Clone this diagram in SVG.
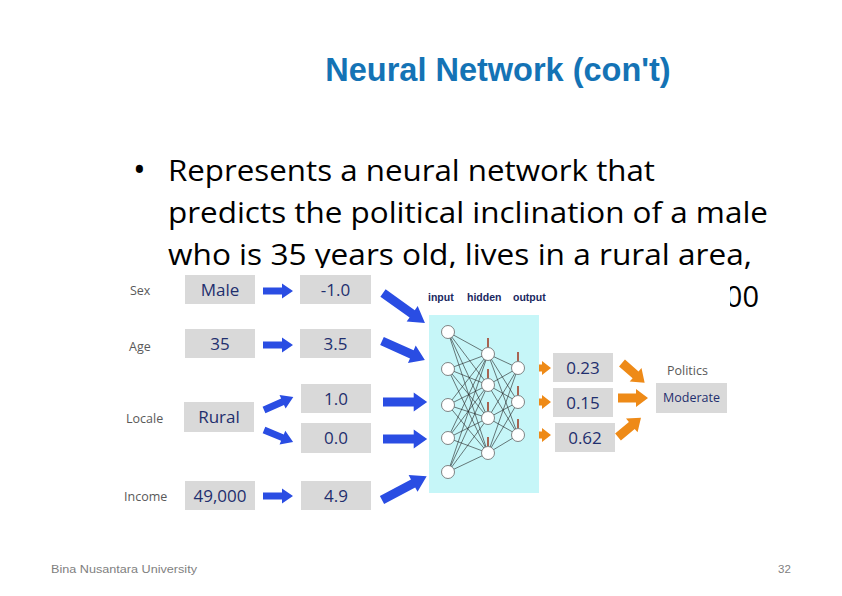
<svg xmlns="http://www.w3.org/2000/svg" width="842" height="596" viewBox="0 0 842 596">
<defs>
<style>
.title{font-family:"Liberation Sans",Arial,sans-serif;font-weight:bold;font-size:32.5px;fill:#1473b5}
.body{font-family:"Open Sans",sans-serif;font-size:29px;fill:#000}
.lbl{font-family:"Open Sans",sans-serif;font-size:12.5px;fill:#595959}
.box{fill:#d9d9d9}
.val{font-family:"Open Sans",sans-serif;font-size:17px;fill:#1f2f6e;text-anchor:middle}
.mod{font-family:"Open Sans",sans-serif;font-size:12.5px;fill:#1f2f6e;text-anchor:middle}
.hdr{font-family:"Liberation Sans",sans-serif;font-weight:bold;font-size:10.5px;fill:#1a2760}
.node{fill:#fff;stroke:#666;stroke-width:0.8}
.edge{stroke:#222;stroke-width:0.6}
.bias{stroke:#a0402a;stroke-width:1.6}
.foot{font-family:"Liberation Sans",sans-serif;font-size:11.5px;fill:#7f7f7f}
.ba{fill:#2a4de3}
.oa{fill:#ee8a17}
</style>
<path id="sa" d="M0,-3.5H19V-7.5L30,0L19,7.5V3.5H0Z"/>
<path id="la" d="M0,-4.5H32V-9.5L46,0L32,9.5V4.5H0Z"/>
<path id="os" d="M0,-3.5H14V-7L23,0L14,7V3.5H0Z"/>
<path id="ol" d="M0,-4.5H18V-9L30,0L18,9V4.5H0Z"/>
</defs>
<rect width="842" height="596" fill="#fff"/>
<g id="title"><text class="title" x="498" y="81" text-anchor="middle">Neural Network (con't)</text></g>
<g id="body">
<text class="body" x="133" y="182" style="font-size:34px">•</text>
<text class="body" x="168" y="181" textLength="487" lengthAdjust="spacingAndGlyphs">Represents a neural network that</text>
<text class="body" x="168" y="223" textLength="600" lengthAdjust="spacingAndGlyphs">predicts the political inclination of a male</text>
<text class="body" x="168" y="265" textLength="584" lengthAdjust="spacingAndGlyphs">who is 35 years old, lives in a rural area,</text>
<text class="body" x="759" y="307" text-anchor="end">00</text>
</g>
<rect x="115" y="268" width="615" height="247" fill="#fff"/>
<g id="connectors">
<g class="ba">
<use href="#sa" transform="translate(263,291)"/>
<use href="#sa" transform="translate(263,345)"/>
<use href="#sa" transform="translate(263,496)"/>
<use href="#sa" transform="translate(264,410) rotate(-24) scale(1.07,1)"/>
<use href="#sa" transform="translate(264,430) rotate(22.5) scale(1.05,1)"/>
<use href="#la" transform="translate(383,293) rotate(35.5) scale(1.12,1)"/>
<use href="#la" transform="translate(382,341) rotate(24) scale(1.02,1)"/>
<use href="#la" transform="translate(383,402) scale(0.96,1)"/>
<use href="#la" transform="translate(383,439) scale(0.96,1)"/>
<use href="#la" transform="translate(382,500) rotate(-28) scale(1.1,1)"/>
</g>
<g class="oa">
<use href="#os" transform="translate(528,368)"/>
<use href="#os" transform="translate(528,402)"/>
<use href="#os" transform="translate(528,435)"/>
<use href="#ol" transform="translate(622,363) rotate(41)"/>
<use href="#ol" transform="translate(618,398)"/>
<use href="#ol" transform="translate(618,437) rotate(-40)"/>
</g>
</g>
<g id="sex">
<text class="lbl" x="130" y="295">Sex</text>
<rect class="box" x="185" y="275" width="70" height="29"/><text class="val" x="220" y="296">Male</text>
<rect class="box" x="300" y="275" width="71" height="29"/><text class="val" x="335.5" y="296">-1.0</text>
</g>
<g id="age">
<text class="lbl" x="129" y="351">Age</text>
<rect class="box" x="185" y="329" width="70" height="29"/><text class="val" x="220" y="350">35</text>
<rect class="box" x="300" y="329" width="71" height="29"/><text class="val" x="335.5" y="350">3.5</text>
</g>
<g id="locale">
<text class="lbl" x="126" y="423">Locale</text>
<rect class="box" x="184" y="402" width="70" height="30"/><text class="val" x="219" y="423">Rural</text>
<rect class="box" x="301" y="384" width="70" height="29"/><text class="val" x="336" y="405">1.0</text>
<rect class="box" x="301" y="423" width="70" height="30"/><text class="val" x="336" y="444">0.0</text>
</g>
<g id="income">
<text class="lbl" x="124" y="501">Income</text>
<rect class="box" x="185" y="481" width="70" height="29"/><text class="val" x="220" y="502">49,000</text>
<rect class="box" x="301" y="481" width="70" height="29"/><text class="val" x="336" y="502">4.9</text>
</g>
<g id="network">
<text class="hdr" x="428" y="301">input</text>
<text class="hdr" x="467" y="301">hidden</text>
<text class="hdr" x="513" y="301">output</text>
<rect x="429" y="315" width="110" height="178" fill="#c6f6f8"/>
<g class="edge">
<path d="M448,332L488,354M448,332L488,385M448,332L488,418M448,332L488,453M448,369L488,354M448,369L488,385M448,369L488,418M448,369L488,453M448,405L488,354M448,405L488,385M448,405L488,418M448,405L488,453M448,438L488,354M448,438L488,385M448,438L488,418M448,438L488,453M448,472L488,354M448,472L488,385M448,472L488,418M448,472L488,453"/>
<path d="M488,354L518,368M488,354L518,402M488,354L518,435M488,385L518,368M488,385L518,402M488,385L518,435M488,418L518,368M488,418L518,402M488,418L518,435M488,453L518,368M488,453L518,402M488,453L518,435"/>
</g>
<g class="bias">
<path d="M488,347V338M488,378V369M488,411V402M488,446V437M518,361V352M518,395V386M518,428V419"/>
</g>
<g class="node">
<circle cx="448" cy="332" r="6.5"/><circle cx="448" cy="369" r="6.5"/><circle cx="448" cy="405" r="6.5"/><circle cx="448" cy="438" r="6.5"/><circle cx="448" cy="472" r="6.5"/>
<circle cx="488" cy="354" r="6.5"/><circle cx="488" cy="385" r="6.5"/><circle cx="488" cy="418" r="6.5"/><circle cx="488" cy="453" r="6.5"/>
<circle cx="518" cy="368" r="6.5"/><circle cx="518" cy="402" r="6.5"/><circle cx="518" cy="435" r="6.5"/>
</g>
</g>
<g id="outputs">
<rect class="box" x="553" y="353" width="60" height="29"/><text class="val" x="583" y="374">0.23</text>
<rect class="box" x="553" y="388" width="60" height="29"/><text class="val" x="583" y="409">0.15</text>
<rect class="box" x="555" y="423" width="60" height="29"/><text class="val" x="585" y="444">0.62</text>
</g>
<g id="politics">
<text class="lbl" x="667" y="375">Politics</text>
<rect class="box" x="656" y="383" width="71" height="30"/><text class="mod" x="691.5" y="402">Moderate</text>
</g>
<g id="footer">
<text class="foot" x="51" y="573" textLength="146" lengthAdjust="spacingAndGlyphs">Bina Nusantara University</text>
<text class="foot" x="778" y="573">32</text>
</g>
</svg>
